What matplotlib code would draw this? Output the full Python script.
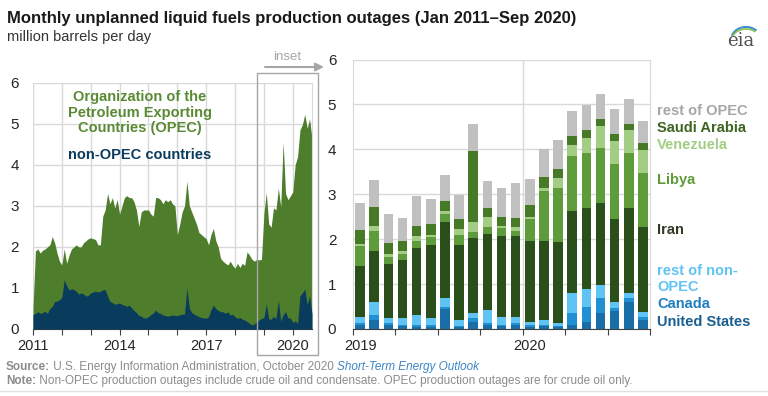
import matplotlib.pyplot as plt
import numpy as np
from matplotlib.patches import Rectangle, Arc

W, H = 768, 396


def fx(px):
    return px / W


def fy(py):
    return 1 - py / H


# monthly outages Jan 2011 - Dec 2018 (million b/d)
total_11_18 = [0.5, 1.9, 1.95, 1.85, 1.92, 1.95, 2.0, 2.05, 2.25, 2.1, 1.85, 1.65,
               1.56, 1.95, 1.6, 1.8, 1.95, 2.0, 2.05, 2.0, 2.0, 2.1, 2.15, 2.2,
               2.22, 2.2, 2.18, 2.05, 2.05, 2.75, 2.9, 3.3, 3.05, 3.2, 2.95, 3.15,
               2.8, 3.0, 3.2, 3.25, 3.2, 3.2, 3.1, 2.9, 2.5, 2.85, 2.9, 2.9,
               2.9, 2.8, 2.75, 3.2, 3.2, 3.15, 3.05, 3.15, 3.1, 3.15, 3.05, 3.0,
               2.3, 2.55, 2.85, 3.0, 3.6, 3.0, 2.85, 2.7, 2.55, 2.35, 2.3, 2.25,
               2.2, 2.05, 2.3, 2.45, 2.15, 2.0, 1.72, 1.65, 1.6, 1.56, 1.65, 1.55,
               1.48, 1.6, 1.5, 1.6, 1.55, 1.88, 1.8, 1.7, 1.65, 1.7, 1.68, 1.7]
nonopec_11_18 = [0.35, 0.38, 0.42, 0.38, 0.4, 0.43, 0.38, 0.5, 0.55, 0.67, 0.68, 0.71,
                 0.78, 1.2, 1.05, 0.95, 0.98, 0.96, 0.92, 0.85, 0.88, 0.85, 0.8, 0.82,
                 0.88, 0.9, 0.92, 0.9, 0.92, 0.95, 0.96, 0.8, 0.67, 0.64, 0.6, 0.62,
                 0.63, 0.6, 0.58, 0.55, 0.58, 0.51, 0.45, 0.4, 0.33, 0.31, 0.27, 0.27,
                 0.3, 0.35, 0.39, 0.46, 0.4, 0.38, 0.34, 0.33, 0.31, 0.33, 0.34, 0.33,
                 0.32, 0.35, 0.36, 0.37, 1.0, 0.5, 0.4, 0.36, 0.33, 0.3, 0.28, 0.27,
                 0.26, 0.3, 0.47, 0.58, 0.5, 0.45, 0.42, 0.42, 0.38, 0.42, 0.34, 0.36,
                 0.3, 0.26, 0.28, 0.24, 0.22, 0.18, 0.14, 0.1, 0.12, 0.18, 0.22, 0.26]

# inset: Jan 2019 - Sep 2020 by country
us = [0.09, 0.2, 0.08, 0.06, 0.05, 0.05, 0.44, 0.04, 0.15, 0.1, 0.06, 0.08,
      0.05, 0.06, 0.04, 0.1, 0.16, 0.36, 0.41, 0.59, 0.19]
canada = [0.05, 0.11, 0.05, 0.04, 0.04, 0.04, 0.06, 0.03, 0.09, 0.04, 0.03, 0.05,
          0.04, 0.04, 0.03, 0.25, 0.34, 0.32, 0.06, 0.09, 0.08]
rest_nonopec = [0.13, 0.3, 0.11, 0.14, 0.22, 0.16, 0.2, 0.12, 0.11, 0.28, 0.18, 0.14,
                0.07, 0.1, 0.07, 0.46, 0.38, 0.29, 0.12, 0.13, 0.1]
iran = [1.14, 1.13, 1.21, 1.3, 1.5, 1.61, 1.69, 1.68, 1.68, 1.7, 1.81, 1.79,
        1.8, 1.76, 1.8, 1.81, 1.82, 1.84, 1.87, 1.89, 1.9]
libya = [0.43, 0.45, 0.16, 0.13, 0.14, 0.18, 0.16, 0.22, 0.14, 0.14, 0.16, 0.12,
         0.49, 1.11, 1.19, 1.23, 1.22, 1.23, 1.21, 1.22, 1.21]
venezuela = [0.05, 0.1, 0.05, 0.07, 0.11, 0.05, 0.08, 0.14, 0.22, 0.23, 0.05, 0.08,
             0.05, 0.07, 0.23, 0.25, 0.34, 0.48, 0.51, 0.5, 0.5]
saudi = [0.31, 0.43, 0.25, 0.21, 0.23, 0.25, 0.23, 0.23, 1.57, 0.2, 0.2, 0.22,
         0.25, 0.25, 0.2, 0.19, 0.16, 0.15, 0.16, 0.14, 0.15]
rest_opec = [0.61, 0.6, 0.65, 0.53, 0.66, 0.56, 0.57, 0.52, 0.6, 0.61, 0.66, 0.76,
             0.59, 0.61, 0.64, 0.56, 0.56, 0.56, 0.55, 0.56, 0.51]

series = [us, canada, rest_nonopec, iran, libya, venezuela, saudi, rest_opec]
names = ['United States', 'Canada', 'rest of non-\nOPEC', 'Iran', 'Libya',
         'Venezuela', 'Saudi Arabia', 'rest of OPEC']
colors = ['#1a6ea8', '#2190d2', '#5fc3f3', '#2b4f1b', '#5e9b3a',
          '#a3cd85', '#467a27', '#c0c0c0']
label_colors = ['#1a5f8f', '#1f7fbf', '#5fc3f3', '#2f3a26', '#5e9b3a',
                '#a3cd85', '#3d6420', '#a6a6a6']
label_y = [322, 304, 279, 230, 180, 145, 128, 111]

plt.rcParams['font.family'] = ['Liberation Sans', 'DejaVu Sans']
grid_c = '#d9d9d9'
txt_c = '#262626'

fig = plt.figure(figsize=(7.68, 3.96), dpi=100)

# ---- left: full period area chart
ax1 = fig.add_axes([fx(33), fy(329), (312 - 33) / W, (329 - 82.7) / H])
nonopec_all = nonopec_11_18 + [a + b + c for a, b, c in zip(us, canada, rest_nonopec)]
total_all = total_11_18 + [sum(v) for v in zip(*series)]
x = 2011 + np.arange(len(total_all)) / 12
ax1.fill_between(x, 0, total_all, color='#4e7d2c', lw=0, zorder=2)
ax1.fill_between(x, 0, nonopec_all, color='#083b5c', lw=0, zorder=3)
ax1.set_xlim(2011, x[-1])
ax1.set_ylim(0, 6)
ax1.set_yticks(range(7))
ax1.set_xticks(range(2011, 2021))
ax1.set_xticklabels([str(y) if y in (2011, 2014, 2017, 2020) else '' for y in range(2011, 2021)])
ax1.grid(True, color=grid_c, lw=1, zorder=0)
ax1.set_axisbelow(True)
ax1.tick_params(axis='y', length=0, pad=10, labelsize=11, labelcolor=txt_c)
ax1.tick_params(axis='x', length=4, color='#404040', pad=3, labelsize=10.5, labelcolor=txt_c)
for s in ['left', 'top']:
    ax1.spines[s].set_visible(False)
ax1.spines['right'].set_color(grid_c)
ax1.spines['bottom'].set_color('#404040')

ax1.text(2014.7, 5.27, 'Organization of the\nPetroleum Exporting\nCountries (OPEC)',
         ha='center', va='center', color='#5a8a34', fontsize=10.5, fontweight='bold',
         linespacing=1.15)
ax1.text(2014.7, 4.24, 'non-OPEC countries', ha='center', va='center',
         color='#0b3c5d', fontsize=10.5, fontweight='bold')

# ---- right: inset stacked bars
ax2 = fig.add_axes([fx(353), fy(329), (650 - 353) / W, (329 - 59.5) / H])
pos = np.arange(len(us)) + 0.5
bottom = np.zeros(len(us))
for vals, c in zip(series, colors):
    ax2.bar(pos, vals, width=0.68, bottom=bottom, color=c, lw=0, zorder=2)
    bottom += np.array(vals)
ax2.set_xlim(0, len(us))
ax2.set_ylim(0, 6)
ax2.set_yticks(range(7))
ax2.set_xticks(range(0, 22, 3))
ax2.set_xticklabels([])
ax2.set_xticks([0.5, 12.5], minor=True)
ax2.set_xticklabels(['2019', '2020'], minor=True)
ax2.tick_params(axis='x', which='minor', length=0, pad=7, labelsize=10.5, labelcolor=txt_c)
ax2.tick_params(axis='x', which='major', length=4, color='#404040')
ax2.tick_params(axis='y', length=0, pad=12, labelsize=11, labelcolor=txt_c)
ax2.grid(True, axis='y', color=grid_c, lw=1, zorder=0)
ax2.axvline(12, color=grid_c, lw=1, zorder=0)
ax2.set_axisbelow(True)
ax2.spines['top'].set_visible(False)
ax2.spines['left'].set_color(grid_c)
ax2.spines['right'].set_color(grid_c)
ax2.spines['bottom'].set_color('#404040')

for n, c, yy in zip(names, label_colors, label_y):
    fig.text(fx(657), fy(yy), n, color=c, fontsize=10.5, fontweight='bold',
             va='center', ha='left', linespacing=1.1)

# inset box and arrow
fig.patches.append(Rectangle((fx(257), fy(355)), 61 / W, 282 / H, transform=fig.transFigure,
                             fill=False, ec='#a6a6a6', lw=1))
fig.text(fx(287), fy(57), 'inset', color='#a6a6a6', fontsize=9.5, ha='center', va='center')
fig.add_artist(plt.Annotation('', xy=(fx(324), fy(67)), xytext=(fx(265), fy(67)),
                              xycoords='figure fraction', textcoords='figure fraction',
                              arrowprops=dict(arrowstyle='-|>', color='#a6a6a6', lw=1.5,
                                              mutation_scale=12, shrinkA=0, shrinkB=0)))

# titles
fig.text(fx(7), fy(23), 'Monthly unplanned liquid fuels production outages (Jan 2011\u2013Sep 2020)',
         fontsize=12, fontweight='bold', color='#1a1a1a', va='baseline')
fig.text(fx(7), fy(41), 'million barrels per day', fontsize=10.5, color='#333333', va='baseline')

# eia logo
fig.text(fx(741), fy(46), 'eia', fontsize=13, family='DejaVu Serif', color='#505050',
         ha='center', va='baseline')
fig.patches.append(Arc((fx(746), fy(40)), 30 / W, 26 / H, theta1=60, theta2=150,
                       transform=fig.transFigure, color='#3a8fc8', lw=1.5))
fig.patches.append(Arc((fx(746), fy(42)), 30 / W, 26 / H, theta1=65, theta2=140,
                       transform=fig.transFigure, color='#8cc152', lw=1.2))

# footer, written piece by piece
fig.canvas.draw()
rend = fig.canvas.get_renderer()


def line(parts, y):
    xpos = fx(6)
    for s, kw in parts:
        t = fig.text(xpos, fy(y), s, fontsize=8.5, va='baseline', **kw)
        bb = t.get_window_extent(renderer=rend)
        xpos += bb.width / W


grey = '#8c8c8c'
line([('Source:', dict(color=grey, fontweight='bold')),
      (' U.S. Energy Information Administration, October 2020 ', dict(color=grey)),
      ('Short-Term Energy Outlook', dict(color='#3d85c6', style='italic'))], 370)
line([('Note:', dict(color=grey, fontweight='bold')),
      (' Non-OPEC production outages include crude oil and condensate. OPEC production outages are for crude oil only.',
       dict(color=grey))], 384)
fig.add_artist(plt.Line2D([fx(0), fx(768)], [fy(391), fy(391)], color='#e0e0e0', lw=1))

fig.savefig('out.png', dpi=100)
